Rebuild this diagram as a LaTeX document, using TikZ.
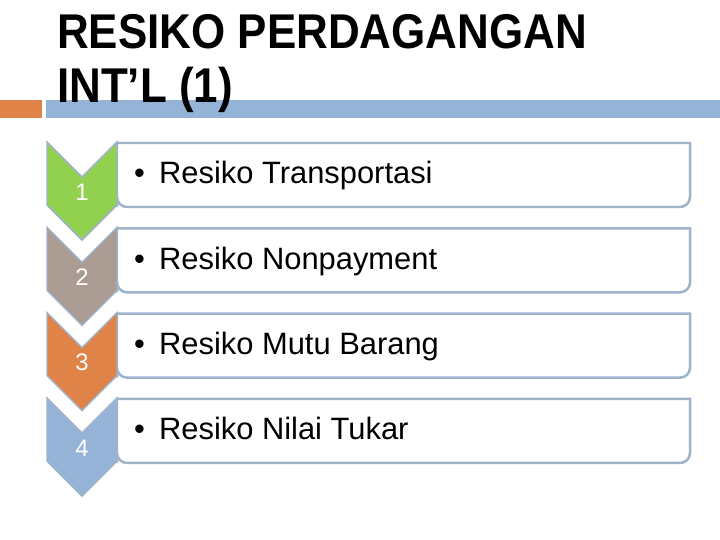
\documentclass[tikz,border=0pt]{standalone}
\usepackage{fontspec}
\setmainfont{Liberation Sans}
\newfontfamily\titlefont[FakeStretch=0.9]{Liberation Sans Bold}
\usepackage{tikz}
\usetikzlibrary{positioning}
\usepackage{xcolor}

\definecolor{stepgreen}{RGB}{146,208,80}
\definecolor{steptaupe}{RGB}{170,155,147}
\definecolor{steporange}{RGB}{224,131,72}
\definecolor{stepblue}{RGB}{149,179,215}
\definecolor{boxedge}{RGB}{158,179,202}

\tikzset{
  chevshape/.style={draw=boxedge, line width=1.5pt, line join=miter},
  numlabel/.style={text=white, inner sep=0pt, font=\fontsize{24}{28}\selectfont},
  risktext/.style={anchor=base west, inner sep=0pt, font=\fontsize{31}{36}\selectfont},
  titletext/.style={anchor=base west, inner sep=0pt, font=\titlefont\fontsize{49}{56}\selectfont},
}

\begin{document}
\begin{tikzpicture}[x=1bp,y=-1bp]
  \useasboundingbox[fill=white] (0,0) rectangle (720,540);
  % Title bar
  \fill[steporange] (0,100) rectangle (42,118);
  \fill[stepblue] (46,100) rectangle (720,118);
  \node[titletext] (title1) at (57,49) {RESIKO PERDAGANGAN};
  \node[titletext] (title2) at (57,103) {INT’L (1)};
  % Steps (chevron + box)
  \foreach \col/\txt [count=\i] in {stepgreen/Resiko Transportasi,
      steptaupe/Resiko Nonpayment, steporange/Resiko Mutu Barang,
      stepblue/Resiko Nilai Tukar} {
    \pgfmathsetmacro\rowtop{142+85.33*(\i-1)}
    \draw[boxedge, line width=2.5pt, fill=white]
      (117,\rowtop+65) -- (117,\rowtop+1) -- (690,\rowtop+1)
      [rounded corners=10pt] -- (690,\rowtop+65) -- (117,\rowtop+65)
      [sharp corners] -- cycle;
    \draw[chevshape, fill=\col] (47,\rowtop) -- (82,\rowtop+35) -- (117,\rowtop)
      -- (117,\rowtop+63) -- (82,\rowtop+98) -- (47,\rowtop+63) -- cycle;
    \node[numlabel] (num\i) at (82,\rowtop+50) {\i};
    \node[risktext] (risk\i) at (134,\rowtop+42) {\makebox[25pt][l]{•}\txt};
  }
\end{tikzpicture}
\end{document}
